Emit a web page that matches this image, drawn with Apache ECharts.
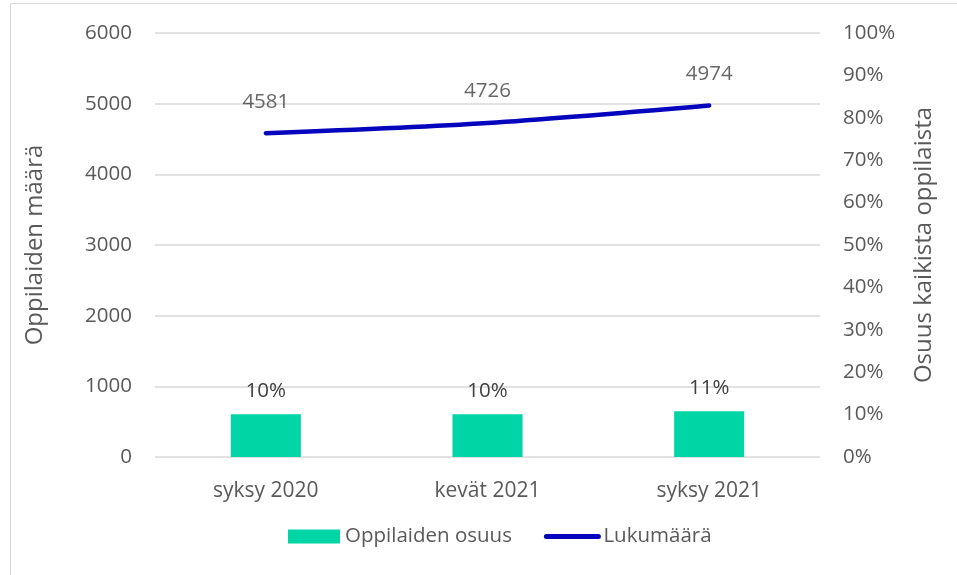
<!DOCTYPE html>
<html>
<head>
<meta charset="utf-8">
<script src="https://cdn.jsdelivr.net/npm/echarts@6/dist/echarts.min.js"></script>
<style>
  html, body { margin: 0; padding: 0; background: #fff; }
  #chart { width: 957px; height: 575px; }
</style>
</head>
<body>
<div id="chart"></div>
<script>
var categories = ['syksy 2020', 'kevät 2021', 'syksy 2021'];
var shareValues = [0.101, 0.101, 0.108];   // Oppilaiden osuus (right axis)
var countValues = [4581, 4726, 4974];      // Lukumäärä (left axis)

var textColor = '#595959';
var font = 'Open Sans';

var myChart = echarts.init(document.getElementById('chart'));

var option = {
    animation: false,
    textStyle: { fontFamily: font, color: textColor },
    graphic: [{
        type: 'rect',
        shape: { x: 10.5, y: 3.5, width: 1000, height: 700 },
        style: { fill: 'none', stroke: '#d9d9d9', lineWidth: 1 },
        silent: true
    }],
    grid: { left: 155, right: 137, top: 33, bottom: 118 },
    legend: {
        bottom: 23,
        left: 283,
        itemWidth: 52,
        itemHeight: 14,
        itemGap: 32,
        textStyle: { fontSize: 20.5, color: textColor, fontFamily: font },
        data: [
            { name: 'Oppilaiden osuus', icon: 'rect' },
            {
                name: 'Lukumäärä',
                itemStyle: { opacity: 0 },
                lineStyle: { color: '#0505bd', width: 5, cap: 'round' }
            }
        ]
    },
    xAxis: [{
        type: 'category',
        data: categories,
        axisLine: { show: false },
        axisTick: { show: false },
        axisLabel: { fontSize: 21, color: textColor, margin: 24 }
    }],
    yAxis: [{
        type: 'value',
        min: 0,
        max: 6000,
        interval: 1000,
        position: 'left',
        name: 'Oppilaiden määrä',
        nameLocation: 'middle',
        nameRotate: 90,
        nameGap: 108,
        nameTextStyle: { fontSize: 24, color: textColor },
        axisLine: { show: false },
        axisTick: { show: false },
        axisLabel: {
            fontSize: 20.5, color: textColor, margin: 23,
            formatter: function (v) { return String(v); }
        },
        splitLine: { lineStyle: { color: '#d9d9d9', width: 1.5 } }
    }, {
        type: 'value',
        min: 0,
        max: 1,
        interval: 0.1,
        position: 'right',
        name: 'Osuus kaikista oppilaista',
        nameLocation: 'middle',
        nameRotate: 90,
        nameGap: 92,
        nameTextStyle: { fontSize: 24, color: textColor },
        axisLine: { show: false },
        axisTick: { show: false },
        axisLabel: {
            fontSize: 20.5, color: textColor, margin: 23,
            formatter: function (v) { return Math.round(v * 100) + '%'; }
        },
        splitLine: { show: false }
    }],
    series: [{
        name: 'Oppilaiden osuus',
        type: 'bar',
        yAxisIndex: 1,
        data: shareValues,
        barWidth: '31.6%',
        itemStyle: { color: '#00d5a6' },
        label: {
            show: true,
            position: 'top',
            distance: 13,
            fontSize: 20.5,
            color: '#404040',
            formatter: function (p) { return Math.round(p.value * 100) + '%'; }
        }
    }, {
        name: 'Lukumäärä',
        type: 'line',
        yAxisIndex: 0,
        data: countValues,
        smooth: 0.3,
        symbol: 'none',
        lineStyle: { color: '#0505bd', width: 4.5, cap: 'round' },
        itemStyle: { color: '#0505bd' },
        z: 3
    }, {
        // labels for the Lukumäärä line (line with symbol 'none' shows no labels)
        name: 'Lukumäärä-labels',
        type: 'scatter',
        yAxisIndex: 0,
        data: countValues,
        symbolSize: 0,
        silent: true,
        label: {
            show: true,
            position: 'top',
            distance: 21,
            fontSize: 20.5,
            color: '#404040'
        },
        z: 4
    }]
};

myChart.setOption(option);
</script>
</body>
</html>
